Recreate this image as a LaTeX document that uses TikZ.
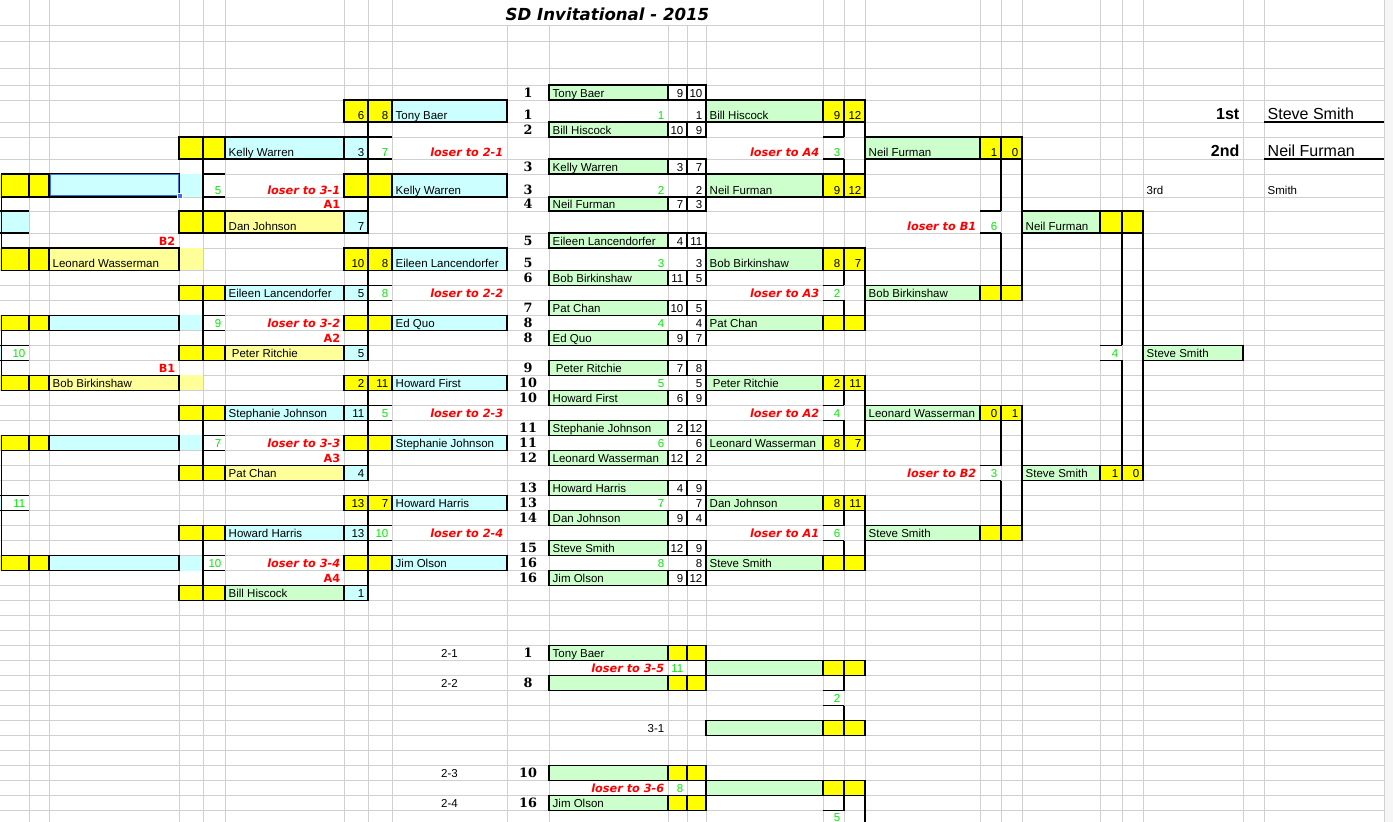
\documentclass[tikz,border=0pt]{standalone}
\usepackage{fontspec}
\setmainfont{Liberation Sans}
\newfontfamily\hdfont{DejaVu Sans}[ItalicFont={DejaVu Sans Oblique},BoldItalicFont={DejaVu Sans Bold Oblique}]
\newfontfamily\seedfont{DejaVu Serif}
\definecolor{cyancell}{HTML}{CCFFFF}
\definecolor{greencell}{HTML}{CCFFCC}
\definecolor{yelcell}{HTML}{FFFF00}
\definecolor{paleyel}{HTML}{FFFF99}
\definecolor{gamegreen}{HTML}{00EE00}
\definecolor{gridgray}{HTML}{D0D0D0}
\definecolor{selblue}{HTML}{3B73D9}
\newcommand{\cellfont}{\fontsize{11.5}{13}\selectfont}

% sheet columns (left/right edge) and row tops, in screen pixels
\foreach \c/\l/\r in {Z/0/1.5,A/1.5/29,B/29/49,C/49/179,D/179/203,E/203/225,F/225/344,
  G/344/368,H/368/392,I/392/507,J/507/549,K/549/668,L/668/687,M/687/706,N/706/823,
  O/823/844,P/844/865,Q/865/980,R/980/1001,S/1001/1022,T/1022/1100,U/1100/1122,
  V/1122/1143,W/1143/1243,X/1243/1264,Y/1264/1384}{%
  \expandafter\xdef\csname cl\c\endcsname{\l}\expandafter\xdef\csname cr\c\endcsname{\r}}
\foreach \r/\y in {0/0,1/25,2/41,3/68,4/85,5/100,6/122,7/137,8/159,9/174,10/197,11/211,12/233,13/248}{%
  \expandafter\xdef\csname rt\r\endcsname{\y}}
\foreach \r in {14,...,52}{%
  \pgfmathsetmacro\y{270.3+15.015*(\r-14)}\expandafter\xdef\csname rt\r\endcsname{\y}}

\newcommand{\lx}[1]{\csname cl#1\endcsname}
\newcommand{\rx}[1]{\csname cr#1\endcsname}
\newcommand{\ty}[1]{\csname rt\number\numexpr#1\relax\endcsname}
\newcommand{\by}[1]{\csname rt\number\numexpr#1+1\relax\endcsname}

\pgfdeclarelayer{gridlayer}
\pgfdeclarelayer{filllayer}
\pgfsetlayers{gridlayer,filllayer,main}

% cells: fill only / fill with black border
\newcommand{\fc}[3]{\edef\xa{\lx{#1}}\edef\xb{\rx{#1}}\edef\ya{\ty{#2}}\edef\yb{\by{#2}}%
  \begin{pgfonlayer}{filllayer}\fill[#3] (\xa,\ya) rectangle (\xb,\yb);\end{pgfonlayer}}
\newcommand{\bc}[3]{\fc{#1}{#2}{#3}\draw[cellline] (\xa,\ya) rectangle (\xb,\yb);}
% black rules: vertical at left edge of a column, horizontal at top of a row
\newcommand{\vl}[3]{\edef\xa{\lx{#1}}\edef\ya{\ty{#2}}\edef\yb{\by{#3}}\draw[cellline] (\xa,\ya) -- (\xa,\yb);}
\newcommand{\hl}[3]{\edef\xa{\lx{#1}}\edef\xb{\rx{#2}}\edef\ya{\ty{#3}}\draw[cellline] (\xa,\ya) -- (\xb,\ya);}
% cell texts, set on the bottom of the cell
\newcommand{\tl}[4][]{\edef\xa{\lx{#2}}\edef\yb{\by{#3}}\edef\nm{#2\number\numexpr#3\relax}%
  \node[txt,anchor=base west,#1] (\nm) at (\xa+3.5,\yb-3) {#4};}
\newcommand{\tr}[4][]{\edef\xb{\rx{#2}}\edef\yb{\by{#3}}\edef\nm{#2\number\numexpr#3\relax}%
  \node[txt,anchor=base east,#1] (\nm) at (\xb-3.5,\yb-3) {#4};}
\newcommand{\tc}[4][]{\edef\xa{\lx{#2}}\edef\xb{\rx{#2}}\edef\yb{\by{#3}}\edef\nm{#2\number\numexpr#3\relax}%
  \node[txt,anchor=base,#1] (\nm) at ({(\xa+\xb)/2},\yb-3) {#4};}

\begin{document}
\begin{tikzpicture}[x=1pt,y=-1pt,
    cellline/.style={black,line width=1.2pt},
    gridline/.style={gridgray,line width=1pt},
    txt/.style={inner sep=0pt,font=\cellfont,text=black},
    gamenum/.style={text=gamegreen},
    seednum/.style={font=\seedfont\bfseries\fontsize{12.8}{14}\selectfont},
    losertxt/.style={text=red,font=\hdfont\bfseries\itshape\fontsize{11.3}{13}\selectfont},
    redlab/.style={text=red,font=\hdfont\bfseries\fontsize{11.3}{13}\selectfont},
    bigtxt/.style={font=\fontsize{16}{18}\selectfont},
    bigbold/.style={font=\bfseries\fontsize{16}{18}\selectfont}]
  \useasboundingbox (0,0) rectangle (1393,822);

  \begin{pgfonlayer}{gridlayer}
    \fill[white] (0,0) rectangle (1393,822);
    \fill[gray!7] (1385,0) rectangle (1393,822);
    \foreach \r in {1,...,51}{\edef\ya{\ty{\r}}\draw[gridline] (0,\ya) -- (1384,\ya);}
    \foreach \x in {29,49,179,203,225,344,368,392,823,844,865,980,1001,1022,1100,1122,1143,1243,1264,1384}
      \draw[gridline] (\x,0) -- (\x,822);
    \foreach \x in {507,549,668,687,706}% title cell is merged
      \draw[gridline] (\x,25) -- (\x,822);
  \end{pgfonlayer}

  \node[inner sep=0pt,anchor=base,font=\hdfont\bfseries\itshape\fontsize{16.6}{18}\selectfont] (title)
    at (607.5,20.5) {SD Invitational - 2015};

  % winners bracket, first round
  \foreach \ra/\sA/\nA/\pA/\qA/\gm/\gk/\sB/\nB/\pB/\qB/\wn/\wo/\wq in {
      4/1/Tony Baer/9/10/1/1/2/Bill Hiscock/10/9/Bill Hiscock/9/12,
      8/3/Kelly Warren/3/7/3/2/4/Neil Furman/7/3/Neil Furman/9/12,
      12/5/Eileen Lancendorfer/4/11/5/3/6/Bob Birkinshaw/11/5/Bob Birkinshaw/8/7,
      16/7/Pat Chan/10/5/8/4/8/Ed Quo/9/7/Pat Chan/{}/{},
      20/9/~Peter Ritchie/7/8/10/5/10/Howard First/6/9/~Peter Ritchie/2/11,
      24/11/Stephanie Johnson/2/12/11/6/12/Leonard Wasserman/12/2/Leonard Wasserman/8/7,
      28/13/Howard Harris/4/9/13/7/14/Dan Johnson/9/4/Dan Johnson/8/11,
      32/15/Steve Smith/12/9/16/8/16/Jim Olson/9/12/Steve Smith/{}/{}}{
    \bc{K}{\ra}{greencell}\bc{L}{\ra}{white}\bc{M}{\ra}{white}
    \bc{K}{\ra+2}{greencell}\bc{L}{\ra+2}{white}\bc{M}{\ra+2}{white}
    \bc{N}{\ra+1}{greencell}\bc{O}{\ra+1}{yelcell}\bc{P}{\ra+1}{yelcell}
    \tc[seednum]{J}{\ra}{\sA}\tl{K}{\ra}{\nA}\tr{L}{\ra}{\pA}\tr{M}{\ra}{\qA}
    \tc[seednum]{J}{\ra+1}{\gm}\tr[gamenum]{K}{\ra+1}{\gk}\tr{M}{\ra+1}{\gk}
    \tl{N}{\ra+1}{\wn}\tr{O}{\ra+1}{\wo}\tr{P}{\ra+1}{\wq}
    \tc[seednum]{J}{\ra+2}{\sB}\tl{K}{\ra+2}{\nB}\tr{L}{\ra+2}{\pB}\tr{M}{\ra+2}{\qB}
  }

  % winners bracket, second round
  \foreach \ra/\gm/\lo/\wn/\wa/\wb in {5/3/A4/Neil Furman/1/0, 13/2/A3/Bob Birkinshaw/{}/{},
      21/4/A2/Leonard Wasserman/0/1, 29/6/A1/Steve Smith/{}/{}}{
    \vl{P}{\ra+1}{\ra+1}\vl{P}{\ra+3}{\ra+3}\vl{Q}{\ra+1}{\ra+3}
    \hl{O}{O}{\ra+2}\hl{O}{O}{\ra+3}
    \bc{Q}{\ra+2}{greencell}\bc{R}{\ra+2}{yelcell}\bc{S}{\ra+2}{yelcell}
    \tl{Q}{\ra+2}{\wn}\tr{R}{\ra+2}{\wa}\tr{S}{\ra+2}{\wb}
    \tr[gamenum]{O}{\ra+2}{\gm}\tr[losertxt]{N}{\ra+2}{loser to \lo}
  }

  % winners bracket, third round
  \foreach \ra/\gm/\lo/\wn/\wa/\wb in {7/6/B1/Neil Furman/{}/{}, 23/3/B2/Steve Smith/1/0}{
    \vl{S}{\ra+1}{\ra+3}\vl{S}{\ra+5}{\ra+7}\vl{T}{\ra+1}{\ra+7}
    \hl{R}{R}{\ra+4}\hl{R}{R}{\ra+5}
    \bc{T}{\ra+4}{greencell}\bc{U}{\ra+4}{yelcell}\bc{V}{\ra+4}{yelcell}
    \tl{T}{\ra+4}{\wn}\tr{U}{\ra+4}{\wa}\tr{V}{\ra+4}{\wb}
    \tr[gamenum]{R}{\ra+4}{\gm}\tr[losertxt]{Q}{\ra+4}{loser to \lo}
  }

  % winners final
  \vl{V}{12}{18}\vl{V}{20}{26}\vl{W}{12}{26}
  \hl{U}{U}{19}\hl{U}{U}{20}
  \bc{W}{19}{greencell}\tl{W}{19}{Steve Smith}\tr[gamenum]{U}{19}{4}

  % placings
  \tr[bigbold]{W}{5}{1st}\tl[bigtxt]{Y}{5}{Steve Smith}\hl{Y}{Y}{6}
  \tr[bigbold]{W}{7}{2nd}\tl[bigtxt]{Y}{7}{Neil Furman}\hl{Y}{Y}{8}
  \tl{W}{9}{3rd}\tl{Y}{9}{Smith}

  % losers bracket, first round
  \foreach \ra/\ga/\ha/\na in {5/6/8/Tony Baer, 9/{}/{}/Kelly Warren, 13/10/8/Eileen Lancendorfer,
      17/{}/{}/Ed Quo, 21/2/11/Howard First, 25/{}/{}/Stephanie Johnson, 29/13/7/Howard Harris,
      33/{}/{}/Jim Olson}{
    \bc{G}{\ra}{yelcell}\bc{H}{\ra}{yelcell}\bc{I}{\ra}{cyancell}
    \tr{G}{\ra}{\ga}\tr{H}{\ra}{\ha}\tl{I}{\ra}{\na}
  }
  \foreach \ra/\gm/\lo/\wn/\ws in {5/7/2-1/Kelly Warren/3, 13/8/2-2/Eileen Lancendorfer/5,
      21/5/2-3/Stephanie Johnson/11, 29/10/2-4/Howard Harris/13}{
    \vl{H}{\ra+1}{\ra+3}
    \hl{H}{H}{\ra+2}\hl{H}{H}{\ra+3}
    \bc{D}{\ra+2}{yelcell}\bc{E}{\ra+2}{yelcell}\bc{F}{\ra+2}{cyancell}\bc{G}{\ra+2}{cyancell}
    \tl{F}{\ra+2}{\wn}\tr{G}{\ra+2}{\ws}\tr[gamenum]{H}{\ra+2}{\gm}
    \tr[losertxt]{I}{\ra+2}{loser to \lo}
  }

  % losers dropping from the second round
  \foreach \ra/\en/\es/\lab/\cf in {11/Dan Johnson/7/A1/paleyel, 19/~Peter Ritchie/5/A2/paleyel,
      27/Pat Chan/4/A3/paleyel, 35/Bill Hiscock/1/A4/greencell}{
    \vl{H}{\ra-1}{\ra-1}
    \bc{D}{\ra}{yelcell}\bc{E}{\ra}{yelcell}\bc{F}{\ra}{\cf}\bc{G}{\ra}{cyancell}
    \tl{F}{\ra}{\en}\tr{G}{\ra}{\es}\tr[redlab]{F}{\ra-1}{\lab}
  }

  % losers bracket, second round
  \foreach \ra/\gm/\lo in {7/5/3-1, 15/9/3-2, 23/7/3-3, 31/10/3-4}{
    \vl{E}{\ra+1}{\ra+3}
    \hl{E}{E}{\ra+2}\hl{E}{E}{\ra+3}
    \fc{Z}{\ra+2}{yelcell}\bc{A}{\ra+2}{yelcell}\bc{B}{\ra+2}{yelcell}\bc{C}{\ra+2}{cyancell}
    \fc{D}{\ra+2}{cyancell}
    \tr[gamenum]{E}{\ra+2}{\gm}\tr[losertxt]{F}{\ra+2}{loser to \lo}
  }
  \foreach \ra/\en/\lab in {13/Leonard Wasserman/B2, 21/Bob Birkinshaw/B1}{
    \fc{Z}{\ra}{yelcell}\bc{A}{\ra}{yelcell}\bc{B}{\ra}{yelcell}\bc{C}{\ra}{paleyel}
    \fc{D}{\ra}{paleyel}
    \tl{C}{\ra}{\en}\tr[redlab]{C}{\ra-1}{\lab}
  }

  % losers bracket, third round (cut by the sheet edge)
  \fc{Z}{11}{cyancell}\fc{A}{11}{cyancell}
  \vl{A}{10}{12}\hl{Z}{A}{11}\hl{Z}{A}{12}
  \fc{Z}{19}{cyancell}
  \vl{A}{18}{20}\hl{Z}{A}{19}\hl{Z}{A}{20}\tr[gamenum]{A}{19}{10}
  \fc{Z}{29}{cyancell}
  \vl{A}{26}{32}\hl{Z}{A}{29}\hl{Z}{A}{30}\tr[gamenum]{A}{29}{11}

  % selected cell
  \draw[selblue,line width=1.2pt] (50.2,174.8) rectangle (178.6,195.8);
  \fill[selblue,draw=white,line width=0.5pt] (176.8,193) rectangle (181.8,198);

  % second chance games
  \foreach \ra/\lab/\sd/\en in {39/2-1/1/Tony Baer, 41/2-2/8/{}, 47/2-3/10/{}, 49/2-4/16/Jim Olson}{
    \bc{K}{\ra}{greencell}\bc{L}{\ra}{yelcell}\bc{M}{\ra}{yelcell}
    \tc{I}{\ra}{\lab}\tc[seednum]{J}{\ra}{\sd}\tl{K}{\ra}{\en}
  }
  \foreach \ra/\gm/\lo in {40/11/3-5, 48/8/3-6}{
    \bc{N}{\ra}{greencell}\bc{O}{\ra}{yelcell}\bc{P}{\ra}{yelcell}
    \tr[gamenum]{L}{\ra}{\gm}\tr[losertxt]{K}{\ra}{loser to \lo}
  }
  \bc{N}{44}{greencell}\bc{O}{44}{yelcell}\bc{P}{44}{yelcell}\tr{K}{44}{3-1}
  \vl{P}{41}{41}\vl{P}{43}{43}\hl{O}{O}{42}\hl{O}{O}{43}\tr[gamenum]{O}{42}{2}
  \vl{P}{49}{49}\vl{Q}{49}{51}\hl{O}{O}{50}
  \node[txt,gamenum,anchor=base east] (O50) at (840.5,821.5) {5};
\end{tikzpicture}
\end{document}
